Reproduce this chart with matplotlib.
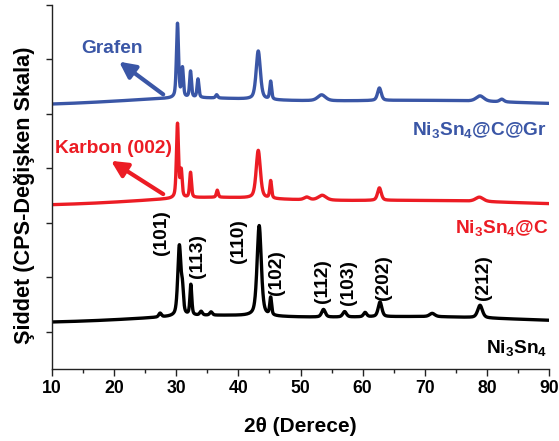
import numpy as np
import matplotlib
matplotlib.use('Agg')
import matplotlib.pyplot as plt

plt.rcParams['font.family'] = ['Liberation Sans', 'DejaVu Sans']
plt.rcParams['font.weight'] = 'bold'
plt.rcParams['axes.labelweight'] = 'bold'
plt.rcParams['mathtext.fontset'] = 'custom'
plt.rcParams['mathtext.rm'] = 'Liberation Sans:bold'
plt.rcParams['mathtext.it'] = 'Liberation Sans:bold'
plt.rcParams['mathtext.bf'] = 'Liberation Sans:bold'

# peak tables: (2theta, height, fwhm)
# the broad entries are the amorphous background
black_base = 0.15
black_peaks = [(35.0, 0.13, 30.0), (70.0, 0.12, 40.0),
               (27.4, 0.07, 0.5), (30.5, 1.28, 0.6), (31.0, 0.40, 0.4),
               (32.35, 0.56, 0.35), (34.0, 0.07, 0.5), (35.6, 0.06, 0.5),
               (43.35, 1.66, 0.8), (45.2, 0.32, 0.35), (53.7, 0.14, 0.7),
               (57.1, 0.10, 0.7), (60.4, 0.08, 0.6), (62.8, 0.27, 0.7),
               (71.2, 0.06, 1.0), (78.9, 0.23, 0.9)]

red_base = 2.30
red_peaks = [(35.0, 0.15, 30.0), (70.0, 0.10, 40.0),
             (30.2, 1.36, 0.4), (30.8, 0.48, 0.35), (32.3, 0.46, 0.35),
             (36.6, 0.13, 0.35), (43.2, 0.88, 0.8), (45.2, 0.32, 0.35),
             (51.0, 0.05, 1.0), (53.5, 0.09, 1.5), (62.7, 0.23, 0.7),
             (78.8, 0.08, 1.5)]

blue_base = 4.14
blue_peaks = [(32.0, 0.14, 30.0), (70.0, 0.10, 40.0),
              (30.2, 1.36, 0.4), (31.0, 0.53, 0.35), (32.3, 0.48, 0.35),
              (33.5, 0.34, 0.35), (36.5, 0.06, 0.4), (43.2, 0.89, 0.8),
              (45.2, 0.33, 0.35), (53.4, 0.11, 1.5), (62.7, 0.23, 0.7),
              (78.9, 0.10, 1.5), (82.4, 0.05, 0.8)]

hkl_labels = ['(101)', '(113)', '(110)', '(102)', '(112)', '(103)', '(202)', '(212)']
hkl_x = [27.55, 33.5, 39.94, 46.2, 53.6, 57.65, 63.3, 79.4]
hkl_y = [1.41, 0.99, 1.27, 0.68, 0.53, 0.50, 0.59, 0.59]


def pattern(tt, base, peaks):
    y = np.full_like(tt, base)
    for pos, h, w in peaks:
        d = (tt - pos) / (w / 2.0)
        lor = 1.0 / (1.0 + d ** 2)
        gau = np.exp(-np.log(2) * d ** 2)
        y += h * (0.5 * lor + 0.5 * gau)
    return y


tt = np.linspace(10, 90, 4001)
blue = '#3a56a6'
red = '#ec1c24'

fig = plt.figure(figsize=(5.59, 4.41), dpi=100)
ax = fig.add_axes([52 / 559, 72 / 441, 497 / 559, 364 / 441])

ax.plot(tt, pattern(tt, black_base, black_peaks), color='black', lw=2.4)
ax.plot(tt, pattern(tt, red_base, red_peaks), color=red, lw=2.4)
ax.plot(tt, pattern(tt, blue_base, blue_peaks), color=blue, lw=2.4)

ax.set_xlim(10, 90)
ax.set_ylim(-0.68, 6.0)
ax.set_xticks(np.arange(10, 91, 10))
ax.set_xticks(np.arange(15, 90, 10), minor=True)
ax.set_yticks(np.arange(0, 7, 1))
ax.set_yticklabels([])
ax.spines['top'].set_visible(False)
ax.spines['right'].set_visible(False)
for s in ('left', 'bottom'):
    ax.spines[s].set_linewidth(1.0)
    ax.spines[s].set_color('#222222')
ax.tick_params(axis='x', which='major', direction='out', length=5, width=1.0,
               labelsize=12.7, pad=3, colors='#222222', labelcolor='black')
ax.tick_params(axis='x', which='minor', direction='out', length=3, width=1.0,
               colors='#222222')
ax.tick_params(axis='y', which='major', direction='out', length=4.3, width=1.0,
               colors='#222222')

ax.set_xlabel('2θ (Derece)', fontsize=15, fontweight='bold', va='center')
ax.xaxis.set_label_coords(0.5, -0.159)
ax.set_ylabel('Şiddet (CPS-Değişken Skala)', fontsize=15.6, fontweight='bold', va='center')
ax.yaxis.set_label_coords(-0.056, 0.478)

for lab, x, y in zip(hkl_labels, hkl_x, hkl_y):
    ax.text(x, y, lab, rotation=90, ha='center', va='bottom', fontsize=13.8)

arrow_kw = dict(arrowstyle='-|>', lw=3, mutation_scale=24, shrinkA=0, shrinkB=0)
ax.annotate('', xy=(20.8, 4.96), xytext=(27.9, 4.36),
            arrowprops=dict(color=blue, **arrow_kw))
ax.text(19.66, 5.21, 'Grafen', color=blue, fontsize=13.8, ha='center', va='center')
ax.annotate('', xy=(19.5, 3.14), xytext=(27.9, 2.53),
            arrowprops=dict(color=red, **arrow_kw))
ax.text(19.82, 3.36, 'Karbon (002)', color=red, fontsize=13.8, ha='center', va='center')

ax.text(89.7, 3.61, r'Ni$_3$Sn$_4$@C@Gr', color=blue, fontsize=13.8, ha='right', va='baseline')
ax.text(89.9, 1.82, r'Ni$_3$Sn$_4$@C', color=red, fontsize=13.8, ha='right', va='baseline')
ax.text(89.7, -0.385, r'Ni$_3$Sn$_4$', color='black', fontsize=13.8, ha='right', va='baseline')

fig.savefig('out.png', dpi=100)
